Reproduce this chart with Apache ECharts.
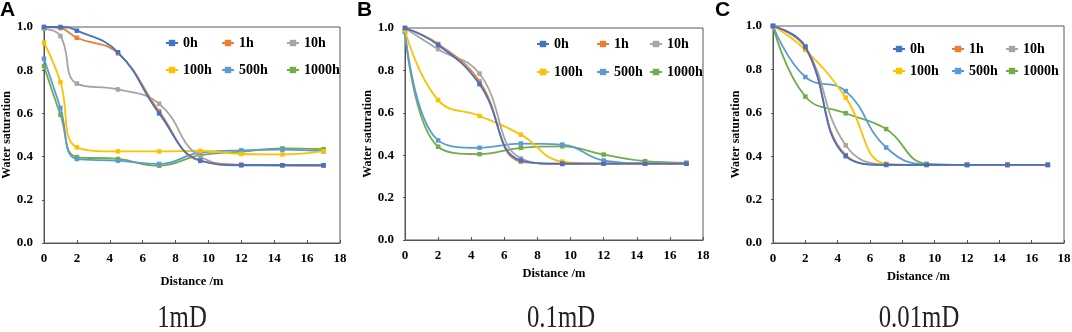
<!DOCTYPE html>
<html>
<head>
<meta charset="utf-8">
<script src="https://cdn.jsdelivr.net/npm/echarts@6/dist/echarts.min.js"></script>
<style>
  html, body { margin: 0; padding: 0; background: #fff; }
  #chart { width: 1072px; height: 332px; }
</style>
</head>
<body>
<div id="chart"></div>
<script>
// series names and colours (Excel defaults)
const timeLabels = ['0h', '1h', '10h', '100h', '500h', '1000h'];
const lineColors = ['#4472C4', '#ED7D31', '#A5A5A5', '#FFC000', '#5B9BD5', '#70AD47'];

// distance (m)
const distA = [0, 1, 2, 4.5, 7, 9.5, 12, 14.5, 17];
const distB = [0, 2, 4.5, 7, 9.5, 12, 14.5, 17];
const distC = [0, 2, 4.5, 7, 9.5, 12, 14.5, 17];

// water saturation, one row per time
const satA = [
    [1.0, 1.0, 0.983, 0.883, 0.60, 0.382, 0.36, 0.36, 0.36],
    [1.0, 0.995, 0.95, 0.878, 0.61, 0.38, 0.363, 0.36, 0.36],
    [0.992, 0.958, 0.738, 0.711, 0.645, 0.40, 0.361, 0.36, 0.358],
    [0.927, 0.745, 0.443, 0.424, 0.424, 0.426, 0.412, 0.41, 0.425],
    [0.853, 0.625, 0.389, 0.381, 0.366, 0.418, 0.429, 0.432, 0.424],
    [0.819, 0.594, 0.398, 0.389, 0.358, 0.407, 0.423, 0.438, 0.434]
];
const satB = [
    [1.0, 0.92, 0.735, 0.375, 0.36, 0.36, 0.36, 0.36],
    [1.0, 0.925, 0.748, 0.37, 0.36, 0.36, 0.36, 0.36],
    [1.0, 0.90, 0.785, 0.385, 0.358, 0.36, 0.36, 0.36],
    [0.99, 0.66, 0.585, 0.497, 0.37, 0.36, 0.36, 0.362],
    [0.985, 0.47, 0.435, 0.455, 0.45, 0.375, 0.362, 0.362],
    [0.98, 0.44, 0.405, 0.435, 0.442, 0.403, 0.372, 0.365]
];
const satC = [
    [1.0, 0.905, 0.40, 0.36, 0.36, 0.36, 0.36, 0.36],
    [1.0, 0.90, 0.405, 0.36, 0.36, 0.36, 0.36, 0.36],
    [1.0, 0.905, 0.45, 0.362, 0.36, 0.36, 0.36, 0.36],
    [1.0, 0.89, 0.67, 0.365, 0.36, 0.36, 0.36, 0.36],
    [1.0, 0.765, 0.70, 0.44, 0.362, 0.36, 0.36, 0.36],
    [1.0, 0.675, 0.598, 0.525, 0.365, 0.36, 0.36, 0.36]
];

const panelLetters = ['A', 'B', 'C'];
const panelCaptions = ['1mD', '0.1mD', '0.01mD'];

var chart = echarts.init(document.getElementById('chart'));

const serif = '"Liberation Serif", "Times New Roman", serif';
const axisColor = '#555';

// plot boxes and legend columns, in pixels
const boxes = [
    { left: 44, right: 732, top: 27, height: 216, xGap: 32, yGap: 31, cols: [165, 221, 286], legendY: 43, rowGap: 27 },
    { left: 405, right: 369, top: 28, height: 212, xGap: 24, yGap: 31, cols: [536, 596, 649], legendY: 44, rowGap: 28 },
    { left: 773, right: 8, top: 26, height: 217, xGap: 23, yGap: 27, cols: [892, 951, 1005], legendY: 49, rowGap: 22 }
];
const dists = [distA, distB, distC];
const sats = [satA, satB, satC];

var grids = [], xAxes = [], yAxes = [], series = [], legends = [], graphics = [];

boxes.forEach(function (b, p) {
    grids.push({
        left: b.left, right: b.right, top: b.top, height: b.height,
        outerBoundsMode: 'none', containLabel: false,
        show: true, borderColor: '#595959', borderWidth: 1, backgroundColor: 'transparent'
    });
    xAxes.push({
        gridIndex: p, type: 'value', min: 0, max: 18, interval: 2,
        name: 'Distance /m', nameLocation: 'middle', nameGap: b.xGap,
        nameTextStyle: { fontFamily: serif, fontWeight: 'bold', fontSize: 12.5, color: '#000' },
        axisLine: { lineStyle: { color: axisColor } },
        axisTick: { show: true, inside: true, length: 3, lineStyle: { color: axisColor } },
        axisLabel: { fontFamily: serif, fontWeight: 'bold', fontSize: 13, color: '#000', margin: 9 },
        splitLine: { show: false }
    });
    yAxes.push({
        gridIndex: p, type: 'value', min: 0, max: 1, interval: 0.2,
        name: 'Water saturation', nameLocation: 'middle', nameGap: b.yGap, nameRotate: 90,
        nameTextStyle: { fontFamily: serif, fontWeight: 'bold', fontSize: 12, color: '#000' },
        axisLine: { show: true, lineStyle: { color: axisColor } },
        axisTick: { show: true, length: 2, lineStyle: { color: axisColor } },
        axisLabel: {
            fontFamily: serif, fontWeight: 'bold', fontSize: 13, color: '#000', margin: 11,
            formatter: function (v) { return v.toFixed(1); }
        },
        splitLine: { show: false }
    });
    timeLabels.forEach(function (name, i) {
        series.push({
            name: name, type: 'line', xAxisIndex: p, yAxisIndex: p,
            smooth: 0.45, symbol: 'rect', symbolSize: 4.5, showSymbol: true,
            color: lineColors[i],
            lineStyle: { width: 1.8 },
            z: 10 - i,
            data: dists[p].map(function (d, k) { return [d, sats[p][i][k]]; })
        });
    });
    // legend laid out as three columns of two entries
    b.cols.forEach(function (x, c) {
        legends.push({
            data: [timeLabels[c], timeLabels[c + 3]],
            left: x, top: b.legendY - 8,
            orient: 'vertical', padding: 0, itemWidth: 12, itemHeight: 8,
            itemGap: b.rowGap - 16,
            textStyle: { fontFamily: serif, fontWeight: 'bold', fontSize: 14, color: '#000', lineHeight: 16 }
        });
    });
    graphics.push({
        type: 'text', left: [0, 357, 715][p], top: 0,
        style: { text: panelLetters[p], font: 'bold 21px "Liberation Sans", Arial, sans-serif', fill: '#000' }
    });
    graphics.push({
        type: 'text', x: [182, 561, 919][p], y: 319, scaleX: 0.8,
        style: {
            text: panelCaptions[p], font: '31px "Liberation Serif", "Times New Roman", serif',
            fill: '#222', textAlign: 'center', textVerticalAlign: 'middle'
        }
    });
});

const option = {
    animation: false,
    grid: grids,
    xAxis: xAxes,
    yAxis: yAxes,
    legend: legends,
    series: series,
    graphic: graphics
};
chart.setOption(option);
window.addEventListener('resize', function () {
    chart.resize();
});
</script>
</body>
</html>
